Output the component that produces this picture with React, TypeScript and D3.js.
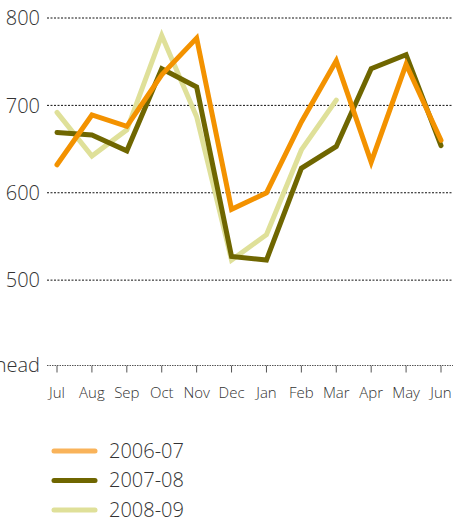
import React, { useRef, useEffect } from "react";
import * as d3 from "d3";

const months = ["Jul", "Aug", "Sep", "Oct", "Nov", "Dec", "Jan", "Feb", "Mar", "Apr", "May", "Jun"];
const yTicks = [500, 600, 700, 800];
const season0607 = [632, 689, 676, 735, 777, 581, 600, 681, 751, 635, 747, 660];
const season0708 = [669, 666, 648, 742, 721, 527, 523, 628, 653, 742, 758, 654];
const season0809 = [692, 642, 672, 780, 687, 523, 552, 649, 706];

const series = [
  { name: "2008-09", values: season0809, color: "#dfe099", legend: "#dfe099" },
  { name: "2007-08", values: season0708, color: "#6f6600", legend: "#6f6600" },
  { name: "2006-07", values: season0607, color: "#f39200", legend: "#f9b35a" },
];

const W = 453;
const H = 517;
const FONT = "'Open Sans', 'Noto Sans', sans-serif";

export default function App() {
  const svgRef = useRef<SVGSVGElement>(null);

  useEffect(() => {
    const svg = d3.select(svgRef.current);
    svg.selectAll("*").remove();

    const x = d3.scalePoint<string>().domain(months).range([57, 441]);
    const y = d3.scaleLinear().domain([400, 800]).range([367.5, 18]);

    // gridlines
    const grid = svg.append("g");
    grid
      .selectAll("line")
      .data(yTicks)
      .enter()
      .append("line")
      .attr("x1", 47)
      .attr("x2", W)
      .attr("y1", (d) => y(d))
      .attr("y2", (d) => y(d))
      .attr("stroke", "#111")
      .attr("stroke-width", 1)
      .attr("stroke-dasharray", "2,1.5");

    grid
      .selectAll("text")
      .data(yTicks)
      .enter()
      .append("text")
      .attr("x", 40)
      .attr("y", (d) => y(d))
      .attr("dy", "0.36em")
      .attr("text-anchor", "end")
      .attr("font-family", FONT)
      .attr("font-weight", 300)
      .attr("font-size", 20)
      .attr("fill", "#333")
      .text((d) => d);

    // bottom axis
    const base = y(400) - 2;
    svg
      .append("line")
      .attr("x1", 47)
      .attr("x2", W)
      .attr("y1", base)
      .attr("y2", base)
      .attr("stroke", "#555")
      .attr("stroke-width", 1)
      .attr("stroke-dasharray", "1.5,1");

    svg
      .append("text")
      .attr("x", 40)
      .attr("y", base)
      .attr("dy", "0.3em")
      .attr("text-anchor", "end")
      .attr("font-family", FONT)
      .attr("font-weight", 300)
      .attr("font-size", 20)
      .attr("fill", "#333")
      .text("'000 head");

    const ticks = svg.append("g");
    ticks
      .selectAll("line")
      .data(months)
      .enter()
      .append("line")
      .attr("x1", (d) => x(d)!)
      .attr("x2", (d) => x(d)!)
      .attr("y1", base)
      .attr("y2", base + 7)
      .attr("stroke", "#555")
      .attr("stroke-width", 1);

    ticks
      .selectAll("text")
      .data(months)
      .enter()
      .append("text")
      .attr("x", (d) => x(d)!)
      .attr("y", 393)
      .attr("dy", "0.35em")
      .attr("text-anchor", "middle")
      .attr("font-family", FONT)
      .attr("font-weight", 300)
      .attr("font-size", 15)
      .attr("fill", "#333")
      .text((d) => d);

    // lines
    const line = d3
      .line<number>()
      .x((_, i) => x(months[i])!)
      .y((d) => y(d));

    svg
      .append("g")
      .selectAll("path")
      .data(series)
      .enter()
      .append("path")
      .attr("d", (d) => line(d.values))
      .attr("fill", "none")
      .attr("stroke", (d) => d.color)
      .attr("stroke-width", 5)
      .attr("stroke-linecap", "round")
      .attr("stroke-linejoin", "miter");

    // legend
    const legendItems = [...series].reverse();
    const lg = svg
      .append("g")
      .selectAll("g")
      .data(legendItems)
      .enter()
      .append("g")
      .attr("transform", (_, i) => `translate(0,${451 + i * 29.5})`);

    lg.append("line")
      .attr("x1", 54)
      .attr("x2", 95)
      .attr("y1", 0)
      .attr("y2", 0)
      .attr("stroke", (d) => d.legend)
      .attr("stroke-width", 5)
      .attr("stroke-linecap", "round");

    lg.append("text")
      .attr("x", 109)
      .attr("y", 0)
      .attr("dy", "0.33em")
      .attr("font-family", FONT)
      .attr("font-weight", 300)
      .attr("font-size", 20)
      .attr("fill", "#333")
      .text((d) => d.name);
  }, []);

  return (
    <svg
      ref={svgRef}
      width={W}
      height={H}
      style={{ position: "absolute", left: 0, top: 0, background: "#fff" }}
    />
  );
}
